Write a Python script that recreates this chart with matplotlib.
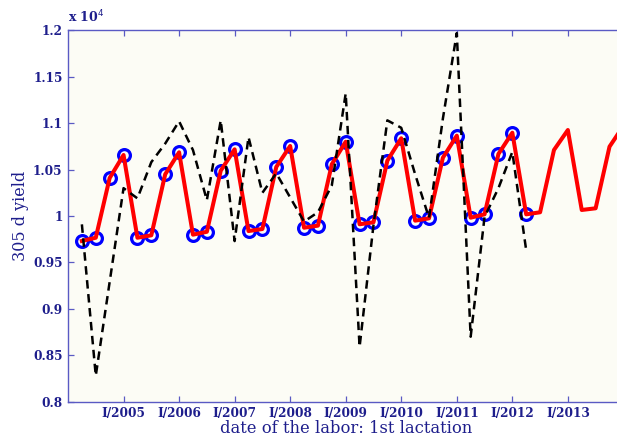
import matplotlib
matplotlib.use("Agg")
import matplotlib.pyplot as plt
from matplotlib.ticker import FixedLocator, FuncFormatter

# Quarterly time axis (decimal years)
fit_time = [2004.25 + 0.25 * i for i in range(40)]
fit_values = [9731, 9766, 10409, 10657, 9766, 9792, 10449, 10686,
              9799, 9830, 10488, 10718, 9838, 9860, 10528, 10754,
              9874, 9896, 10557, 10800, 9911, 9932, 10596, 10837,
              9950, 9975, 10628, 10865, 9982, 10018, 10668, 10897,
              10018, 10040, 10711, 10926, 10065, 10083, 10747, 10970]
n_observed = 33  # fitted values with circle markers (2004.25 .. 2012.25)
raw_values = [9910, 8280, 9290, 10300, 10190, 10580, 10780, 11020,
              10710, 10170, 11030, 9730, 10850, 10250, 10460, 10200,
              9940, 10040, 10330, 11320, 8590, 9900, 11030, 10950,
              10450, 9980, 11050, 11970, 8700, 9990, 10300, 10690, 9630]
year_ticks = [2005, 2006, 2007, 2008, 2009, 2010, 2011, 2012, 2013]
year_labels = ["I/2005", "I/2006", "I/2007", "I/2008", "I/2009",
               "I/2010", "I/2011", "I/2012", "I/2013"]
y_ticks = [8000, 8500, 9000, 9500, 10000, 10500, 11000, 11500, 12000]

label_color = "#1e1e8c"
axis_color = "#5a5ac4"
serif = ["DejaVu Serif"]

fig = plt.figure(figsize=(6.17, 4.42), dpi=100)
fig.patch.set_facecolor("white")
ax = fig.add_axes([68 / 617, 40.3 / 442, 555.4 / 617, 371.4 / 442])
ax.set_facecolor("#fcfcf5")

ax.plot(fit_time[:n_observed], fit_values[:n_observed], linestyle="none",
        marker="o", markersize=8.5, markerfacecolor="none",
        markeredgecolor="#0000ff", markeredgewidth=2.3, zorder=2)
ax.plot(fit_time, fit_values, color="#ff0000", linewidth=2.9, zorder=3)
ax.plot(fit_time[:len(raw_values)], raw_values, color="black",
        linewidth=1.8, linestyle=(0, (3.4, 2.2)), zorder=4)

ax.set_xlim(2004.0, 2014.0)
ax.set_ylim(8000, 12000)

ax.xaxis.set_major_locator(FixedLocator(year_ticks))
ax.set_xticklabels(year_labels)
ax.yaxis.set_major_locator(FixedLocator(y_ticks))
ax.yaxis.set_major_formatter(FuncFormatter(lambda v, p: "%g" % (v / 1e4)))

ax.tick_params(axis="both", direction="in", length=4.5, width=0.9,
               color=axis_color, labelcolor=label_color, labelsize=8.7,
               top=True, right=True, pad=4)
for lab in ax.get_xticklabels() + ax.get_yticklabels():
    lab.set_family(serif)
    lab.set_fontweight("bold")
for s in ax.spines.values():
    s.set_color(axis_color)
    s.set_linewidth(1.0)

ax.set_xlabel("date of the labor: 1st lactation", family=serif,
              fontsize=11.8, color=label_color, labelpad=0)
ax.set_ylabel("305 d yield", family=serif, fontsize=11.5,
              color=label_color, labelpad=3)
fig.text(68 / 617, 1 - 22 / 442, "x 10$^{4}$", family=serif,
         fontweight="bold", fontsize=9, color=label_color,
         ha="left", va="baseline")

fig.savefig("out.png", dpi=100)
